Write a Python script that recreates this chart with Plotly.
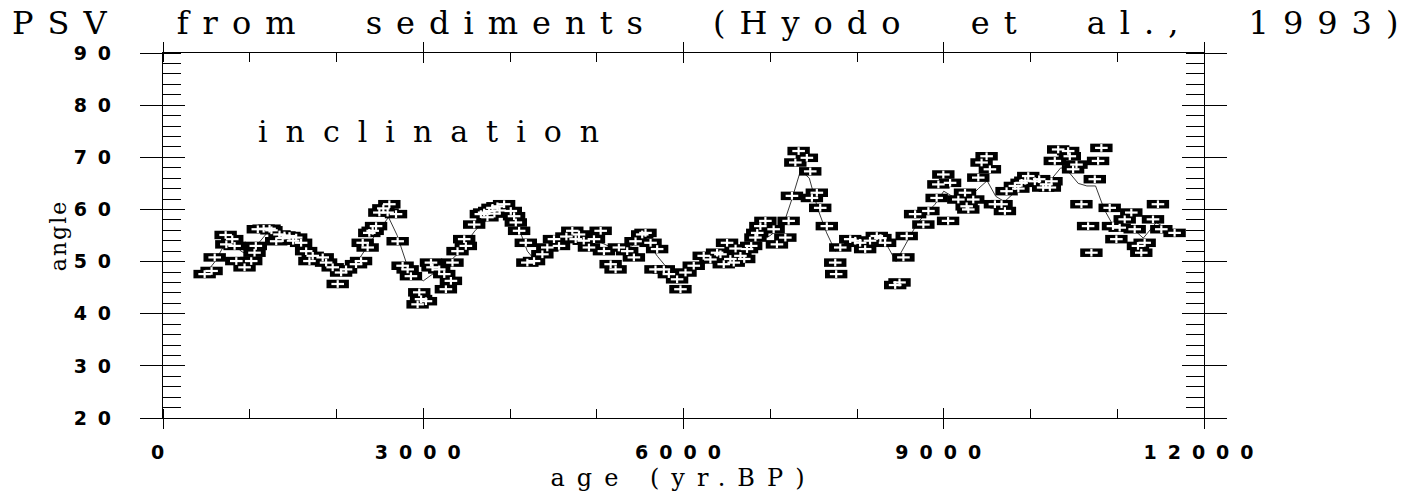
import plotly.graph_objects as go

# ---------------- data ----------------
age = [480, 560, 596, 722, 730, 798, 825, 845, 940, 1017, 1055, 1070, 1093, 1160, 1228,
       1250, 1305, 1343, 1380, 1400, 1458, 1500, 1535, 1592, 1650, 1688, 1726, 1841, 1880,
       1956, 2014, 2053, 2110, 2225, 2283, 2302, 2359, 2378, 2417, 2456, 2494, 2540, 2589,
       2609, 2686, 2705, 2762, 2820, 2858, 2935, 2954, 2975, 3031, 3089, 3107, 3184, 3242,
       3261, 3319, 3337, 3395, 3472, 3491, 3587, 3664, 3702, 3740, 3760, 3798, 3820, 3855,
       3880, 3932, 4009, 4047, 4067, 4105, 4182, 4200, 4277, 4373, 4430, 4507, 4565, 4650,
       4718, 4757, 4795, 4850, 4910, 4968, 5045, 5083, 5160, 5217, 5255, 5351, 5428, 5447,
       5524, 5562, 5620, 5677, 5696, 5773, 5831, 5926, 5965, 6023, 6118, 6233, 6310, 6387,
       6426, 6464, 6502, 6540, 6579, 6600, 6656, 6700, 6732, 6780, 6829, 6850, 6886, 6944,
       7039, 7077, 7174, 7212, 7250, 7289, 7327, 7422, 7461, 7480, 7537, 7576, 7652, 7749,
       7760, 7807, 7922, 7980, 8036, 8094, 8150, 8228, 8270, 8324, 8440, 8490, 8535, 8573,
       8670, 8765, 8823, 8918, 8938, 8995, 9050, 9073, 9168, 9245, 9264, 9283, 9340, 9398,
       9436, 9494, 9532, 9590, 9666, 9705, 9724, 9820, 9860, 9897, 9940, 9974, 10050, 10100,
       10146, 10180, 10223, 10242, 10280, 10319, 10434, 10453, 10491, 10530, 10587, 10664,
       10702, 10741, 10779, 10817, 10913, 10951, 10990, 11028, 11086, 11162, 11201, 11239,
       11277, 11316, 11412, 11469, 11508, 11661]
inclination = [47.6, 48.2, 50.8, 55.1, 53.3, 54.3, 53.0, 50.1, 48.9, 50.1, 51.7, 53.0, 56.2, 56.3, 56.3,
               56.0, 53.9, 55.2, 54.5, 55.0, 54.9, 54.0, 54.6, 53.6, 52.0, 50.1, 51.1, 50.8, 49.8,
               48.9, 45.7, 47.9, 48.5, 49.5, 50.1, 53.6, 52.7, 55.5, 55.9, 56.8, 59.4, 60.2, 59.4,
               61.0, 59.1, 53.9, 49.2, 48.5, 47.2, 41.8, 44.1, 42.8, 42.4, 49.8, 48.9, 48.5, 47.6,
               44.7, 46.3, 49.8, 52.0, 54.3, 53.0, 57.1, 59.1, 59.4, 58.5, 59.7, 60.3, 59.2, 60.6,
               59.8, 61.0, 59.7, 58.7, 57.5, 55.9, 53.6, 49.8, 50.1, 51.4, 52.7, 54.3, 53.0, 54.8,
               55.9, 54.3, 55.2, 54.0, 52.7, 54.3, 55.9, 52.0, 49.5, 48.5, 52.7, 52.0, 50.8, 53.9,
               55.2, 55.5, 53.6, 48.5, 52.4, 48.5, 47.6, 46.6, 44.7, 47.9, 49.2, 51.1, 50.4, 51.7,
               51.4, 49.5, 53.6, 50.5, 49.8, 52.5, 51.1, 50.5, 52.4, 53.0, 54.6, 55.5, 56.8, 57.8,
               56.2, 53.3, 54.6, 57.8, 62.6, 69.0, 71.2, 69.9, 67.3, 62.2, 63.2, 60.3, 56.8, 49.8,
               47.6, 52.7, 54.3, 54.0, 53.6, 52.4, 54.0, 54.9, 54.5, 53.6, 45.5, 46.0, 50.8, 54.9,
               59.1, 57.1, 59.7, 62.2, 64.8, 66.7, 57.8, 65.1, 61.9, 63.2, 60.6, 60.0, 61.9, 66.1,
               69.0, 70.2, 67.7, 61.0, 61.0, 59.7, 63.5, 64.5, 64.0, 65.1, 65.5, 66.4, 65.4, 65.8,
               64.2, 64.8, 64.2, 65.4, 69.3, 71.5, 71.2, 70.2, 67.7, 68.6, 61.0, 56.8,
               51.7, 65.8, 69.3, 71.8, 60.3, 56.8, 54.3, 56.5, 58.1, 59.4, 56.2, 53.0,
               51.7, 53.6, 58.1, 61.0, 56.2, 55.5]

# smoothed curve (thin line)
smooth_age = [480, 600, 700, 800, 900, 1000, 1100, 1200, 1400, 1600, 1800, 2000, 2200, 2400,
              2600, 2700, 2800, 2900, 3000, 3100, 3200, 3400, 3600, 3800, 3950, 4100, 4200,
              4300, 4500, 4800, 5000, 5200, 5400, 5550, 5700, 5850, 6000, 6200, 6400, 6600,
              6800, 7000, 7150, 7250, 7350, 7450, 7550, 7650, 7750, 7900, 8100, 8300, 8450,
              8550, 8700, 8900, 9000, 9150, 9250, 9400, 9500, 9600, 9700, 9800, 10000, 10200,
              10350, 10450, 10550, 10650, 10750, 10850, 10950, 11050, 11200, 11300, 11450,
              11600, 11700]
smooth_inc = [47.5, 50.0, 53.0, 53.5, 52.0, 51.0, 53.5, 55.5, 55.0, 53.5, 51.5, 49.0, 49.0, 54.0,
              58.5, 55.0, 50.0, 47.5, 46.3, 47.5, 48.5, 51.5, 56.0, 59.0, 60.0, 56.5, 52.0,
              50.0, 53.0, 55.0, 54.0, 52.5, 53.0, 54.5, 51.0, 48.0, 47.0, 49.5, 50.5, 51.5,
              53.0, 55.0, 57.0, 62.0, 67.5, 66.0, 60.0, 55.5, 52.0, 53.5, 54.0, 54.5, 50.0,
              53.0, 57.5, 61.0, 63.5, 62.0, 61.5, 64.0, 65.5, 62.5, 61.5, 63.0, 64.5, 65.0,
              68.0, 67.0, 65.0, 64.5, 64.5, 60.0, 57.0, 56.5, 56.0, 54.5, 57.5, 56.0, 55.5]

x_ticks = [0, 3000, 6000, 9000, 12000]
x_ticklabels = ["0", "3000", "6000", "9000", "12000"]
y_ticks = [20, 30, 40, 50, 60, 70, 80, 90]
y_ticklabels = ["20", "30", "40", "50", "60", "70", "80", "90"]

title_text = "PSV from sediments (Hyodo et al., 1993)"
panel_text = "inclination"
x_title = "age (yr.BP)"
y_title = "angle"

# ---------------- figure ----------------
W, H = 1422, 492
ML, MR, MT, MB = 163, 218, 53, 74
PW = W - ML - MR
PH = H - MT - MB

def spaced(s, ls, ws=None):
    st = f"letter-spacing:{ls}px"
    if ws is not None:
        st += f";word-spacing:{ws}px"
    return f'<span style="{st}">{s}</span>'

fig = go.Figure()

# thin smoothed line (primary axes, drawn underneath)
fig.add_trace(go.Scatter(x=smooth_age, y=smooth_inc, mode="lines",
                         line=dict(color="#222222", width=0.9),
                         xaxis="x", yaxis="y", showlegend=False, hoverinfo="skip"))

# markers: black wide body + white plus, on overlay axes (drawn above the line)
fig.add_trace(go.Scatter(x=age, y=inclination, mode="markers",
                         marker=dict(symbol="line-ew", size=16, color="black",
                                     line=dict(color="black", width=8.5)),
                         xaxis="x2", yaxis="y2", showlegend=False))
fig.add_trace(go.Scatter(x=age, y=inclination, mode="markers",
                         marker=dict(symbol="line-ew", size=9, color="white",
                                     line=dict(color="white", width=2.2)),
                         xaxis="x2", yaxis="y2", showlegend=False, hoverinfo="skip"))
fig.add_trace(go.Scatter(x=age, y=inclination, mode="markers",
                         marker=dict(symbol="line-ns", size=5.5, color="white",
                                     line=dict(color="white", width=2.2)),
                         xaxis="x2", yaxis="y2", showlegend=False, hoverinfo="skip"))

tickfont = dict(family="DejaVu Sans", size=19, color="black", weight="bold")
serif = "DejaVu Serif"

common = dict(showgrid=False, zeroline=False, showline=True, linecolor="black",
              linewidth=1.2, tickcolor="black", tickwidth=1.2, automargin=False)

fig.update_layout(
    width=W, height=H,
    margin=dict(l=ML, r=MR, t=MT, b=MB, autoexpand=False),
    paper_bgcolor="white", plot_bgcolor="white",
    xaxis=dict(range=[0, 12000], tickvals=x_ticks,
               ticktext=[spaced(t, 11) for t in x_ticklabels],
               ticks="outside", ticklen=10, mirror="allticks",
               minor=dict(dtick=1000, tick0=0, ticks="inside", ticklen=9,
                          tickcolor="black", tickwidth=1.2, showgrid=False),
               tickfont=tickfont, ticklabelstandoff=7,
               title=dict(text=spaced(x_title, 12),
                          font=dict(family=serif, size=24, color="black"),
                          standoff=8),
               **common),
    yaxis=dict(range=[20, 90], tickvals=y_ticks,
               ticktext=[spaced(t, 11) for t in y_ticklabels],
               ticks="outside", ticklen=22, mirror="allticks",
               minor=dict(dtick=2, tick0=20, ticks="inside", ticklen=18,
                          tickcolor="black", tickwidth=1.2, showgrid=False),
               tickfont=tickfont, ticklabelstandoff=14,
               title=dict(text=spaced(y_title, 2),
                          font=dict(family=serif, size=22, color="black"),
                          standoff=0),
               **common),
    xaxis2=dict(range=[0, 12000], overlaying="x", anchor="y2", side="bottom",
                tickvals=x_ticks, ticks="inside", ticklen=10, mirror="allticks",
                showticklabels=False, **common),
    yaxis2=dict(range=[20, 90], overlaying="y", anchor="x2", side="left",
                tickvals=y_ticks, ticks="inside", ticklen=22, mirror="allticks",
                showticklabels=False, **common),
    title=dict(text=spaced(title_text, 14, 32), xref="container", yref="container",
               x=12 / W, xanchor="left", y=1 - 23 / H, yanchor="middle",
               font=dict(family=serif, size=32, color="black")),
    annotations=[dict(text=spaced(panel_text, 18), xref="paper", yref="paper",
                      x=(256 - ML) / PW, xanchor="left",
                      y=1 - (131 - MT) / PH, yanchor="middle", showarrow=False,
                      font=dict(family=serif, size=30, color="black"))],
)

fig.write_html("out.html")
